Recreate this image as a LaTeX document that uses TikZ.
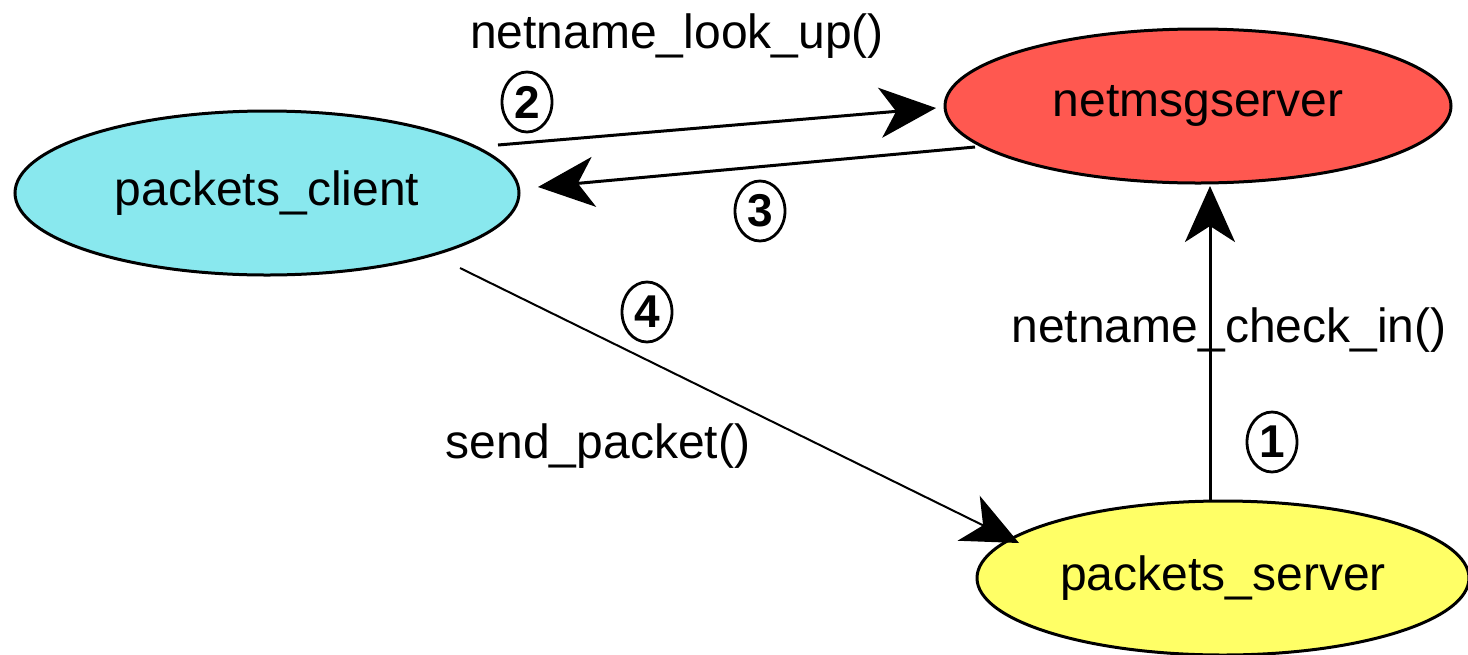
\documentclass[tikz,border=0pt]{standalone}
\usepackage{fontspec}
\setmainfont{Liberation Sans}
\usetikzlibrary{shapes.geometric,arrows.meta}
\definecolor{cyanfill}{RGB}{137,232,238}
\definecolor{redfill}{RGB}{255,88,80}
\definecolor{yellowfill}{RGB}{255,255,102}
\begin{document}
\begin{tikzpicture}[x=0.5pt,y=-0.5pt,
  proc/.style={ellipse,draw=black,line width=1.5pt,inner sep=0pt,font=\fontsize{24}{28}\selectfont},
  lbl/.style={font=\fontsize{24}{28}\selectfont,inner sep=0pt},
  num/.style={ellipse,draw=black,line width=1.4pt,minimum width=25pt,minimum height=30pt,inner sep=0pt,font=\fontsize{23}{28}\selectfont\bfseries},
  conn/.style={line width=1.5pt,-{Stealth[length=28pt,width=25pt,inset=8pt]}},
  thinconn/.style={line width=1pt,-{Stealth[length=28pt,width=25pt,inset=8pt]}}]
\useasboundingbox (0,0) rectangle (1468,654);
\node[proc,fill=cyanfill,minimum width=252pt,minimum height=82pt] (client) at (267,193) {packets\_client};
\node[proc,fill=redfill,minimum width=253pt,minimum height=77pt] (msg) at (1198,106) {netmsgserver};
\node[proc,fill=yellowfill,minimum width=246pt,minimum height=77pt] (server) at (1223,578) {packets\_server};
% connector end points
\coordinate (a2s) at (498,145);
\coordinate (a2e) at (936,108);
\coordinate (a3s) at (975,147);
\coordinate (a3e) at (538,187);
\coordinate (a4s) at (460,268);
\coordinate (a4e) at (1019,543);
\coordinate (a1s) at (1210,502);
\coordinate (a1e) at (1210,186);
\draw[conn] (a2s) -- (a2e);
\draw[conn] (a3s) -- (a3e);
\draw[conn] (a1s) -- (a1e);
\draw[thinconn] (a4s) -- (a4e);
% labels
\node[lbl] (l2) at (677,36) {netname\_look\_up()};
\node[lbl] (l1) at (1229,330) {netname\_check\_in()};
\node[lbl] (l4) at (598,446) {send\_packet()};
\node[num] (n2) at (527,102) {2};
\node[num] (n3) at (760,211) {3};
\node[num] (n4) at (647,312) {4};
\node[num] (n1) at (1272,442) {1};
\end{tikzpicture}
\end{document}
